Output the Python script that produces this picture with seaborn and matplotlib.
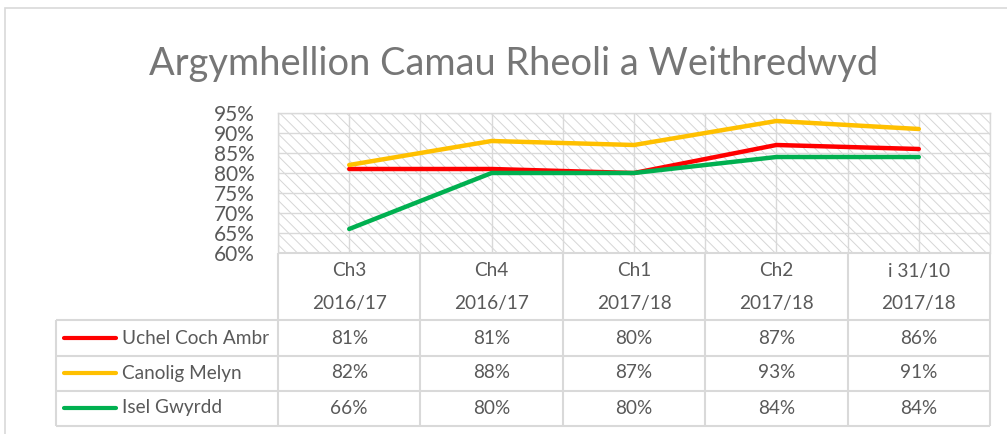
import matplotlib
matplotlib.use("Agg")
import matplotlib.pyplot as plt
from matplotlib.patches import Rectangle
from matplotlib.lines import Line2D
from matplotlib.ticker import FuncFormatter, MultipleLocator, FixedLocator
import seaborn as sns
import pandas as pd

# ---------------- data ----------------
periods = ["Ch3", "Ch4", "Ch1", "Ch2", "i 31/10"]
years = ["2016/17", "2016/17", "2017/18", "2017/18", "2017/18"]
series_names = ["Uchel Coch Ambr", "Canolig Melyn", "Isel Gwyrdd"]
uchel = [81, 81, 80, 87, 86]
canolig = [82, 88, 87, 93, 91]
isel = [66, 80, 80, 84, 84]
series_colors = ["#FF0000", "#FFC000", "#00B050"]
title = "Argymhellion Camau Rheoli a Weithredwyd"

values = [uchel, canolig, isel]
rows = []
for name, vals in zip(series_names, values):
    for i, v in enumerate(vals):
        rows.append({"pos": i, "value": v, "series": name})
df = pd.DataFrame(rows)

# ---------------- style ----------------
sns.set_style("white")
plt.rcParams["font.family"] = ["Lato", "DejaVu Sans"]
plt.rcParams["hatch.linewidth"] = 0.7
plt.rcParams["hatch.color"] = "#D6D6D6"
TXT = "#595959"
GRID = "#D9D9D9"
FS = 13.7

W, H = 1007, 434
fig = plt.figure(figsize=(W / 100, H / 100), dpi=100)


def fr(x0, y0, x1, y1):
    return [x0 / W, 1 - y1 / H, (x1 - x0) / W, (y1 - y0) / H]


# outer frame
fig.add_artist(Rectangle((5 / W, -0.1), 1.2, (H - 8) / H + 0.1, transform=fig.transFigure,
                         fill=False, edgecolor=GRID, lw=1.2))

fig.text(514 / W, 1 - 75 / H, title, ha="center", va="baseline", fontsize=27.4,
         color="#767676")

# ---------------- main plot ----------------
ax = fig.add_axes(fr(278, 113, 990, 253))
ax.add_patch(Rectangle((0, 0), 1, 1, transform=ax.transAxes, facecolor="white",
                       edgecolor="#D6D6D6", hatch="\\\\\\", lw=0, zorder=0))
ax.set_axisbelow(True)

sns.lineplot(data=df, x="pos", y="value", hue="series", hue_order=series_names,
             palette=series_colors, linewidth=3.2, legend=False, ax=ax, sort=False,
             zorder=3)
for ln in ax.lines:
    ln.set_solid_capstyle("round")

n = len(periods)
ax.set_xlim(-0.5, n - 0.5)
ax.set_ylim(60, 95)
ax.xaxis.set_major_locator(FixedLocator(range(n)))
ax.xaxis.set_minor_locator(FixedLocator([i - 0.5 for i in range(n + 1)]))
ax.yaxis.set_major_locator(MultipleLocator(5))
ax.yaxis.set_major_formatter(FuncFormatter(lambda v, p: f"{v:.0f}%"))
ax.grid(True, which="both", axis="x", color=GRID, lw=1)
ax.grid(True, which="major", axis="y", color=GRID, lw=1)
ax.tick_params(axis="x", which="both", length=0, labelbottom=False)
ax.tick_params(axis="y", length=0, pad=17, labelsize=15, labelcolor=TXT)
ax.set_xlabel("")
ax.set_ylabel("")
for s in ["top", "right", "left"]:
    ax.spines[s].set_color(GRID)
    ax.spines[s].set_linewidth(1)
ax.spines["bottom"].set_visible(False)

# ---------------- data table ----------------
axt = fig.add_axes(fr(278, 253, 990, 426))
axt.set_xlim(-0.5, n - 0.5)
axt.set_ylim(173, 0)
axt.axis("off")

px_per_cat = (990 - 278) / n


def px2x(px):
    return -0.5 + (px - 278) / px_per_cat


left = px2x(56)
right = n - 0.5
lkw = dict(color=GRID, lw=1.5, clip_on=False, solid_capstyle="butt")
axt.plot([-0.5, right], [0, 0], **lkw)
for yy in [67, 103, 138, 173]:
    axt.plot([left, right], [yy, yy], **lkw)
for i in range(n + 1):
    axt.plot([i - 0.5, i - 0.5], [0, 173], **lkw)
axt.plot([left, left], [67, 173], **lkw)

for i in range(n):
    axt.text(i, 18, periods[i], ha="center", va="center", fontsize=FS, color=TXT)
    axt.text(i, 51, years[i], ha="center", va="center", fontsize=FS, color=TXT)

row_c = [85, 120, 155]
for r, (name, vals, col) in enumerate(zip(series_names, values, series_colors)):
    yc = row_c[r]
    axt.add_line(Line2D([px2x(64), px2x(116)], [yc, yc], color=col, lw=3,
                        solid_capstyle="round", clip_on=False))
    axt.text(px2x(122), yc, name, ha="left", va="center", fontsize=FS, color=TXT,
             clip_on=False)
    for i, v in enumerate(vals):
        axt.text(i, yc, f"{v}%", ha="center", va="center", fontsize=FS, color=TXT)

fig.savefig("out.png", dpi=100)
